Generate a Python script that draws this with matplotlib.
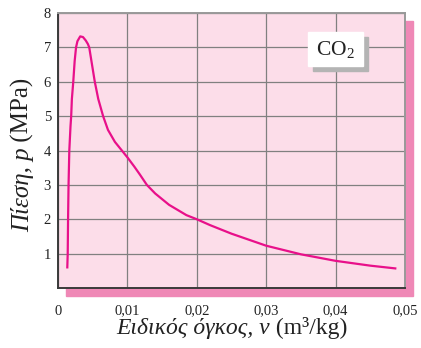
import matplotlib.pyplot as plt
from matplotlib.patches import Rectangle

plt.rcParams["font.family"] = ["Liberation Serif", "DejaVu Serif"]
plt.rcParams["mathtext.fontset"] = "custom"
plt.rcParams["mathtext.rm"] = "Liberation Serif"
plt.rcParams["mathtext.it"] = "Liberation Serif:italic"

# CO2 isotherm
volume = [0.00134, 0.0014, 0.00145, 0.00152, 0.00163, 0.0018, 0.0019, 0.0020,
          0.0022, 0.0024, 0.0026, 0.0028, 0.0032, 0.0036, 0.0040, 0.0043,
          0.0045, 0.0049, 0.0053, 0.0058, 0.0065, 0.0072, 0.0082, 0.0092,
          0.0100, 0.0110, 0.0118, 0.0128, 0.0140, 0.0160, 0.0185, 0.0200,
          0.0219, 0.0250, 0.0300, 0.0350, 0.0400, 0.0450, 0.0486]
pressure = [0.6, 1.0, 2.0, 3.0, 4.0, 4.7, 5.0, 5.5,
            6.0, 6.6, 7.0, 7.18, 7.32, 7.3, 7.2, 7.1,
            7.0, 6.5, 6.0, 5.5, 5.0, 4.6, 4.25, 4.0,
            3.8, 3.53, 3.3, 3.0, 2.75, 2.42, 2.12, 2.0,
            1.83, 1.58, 1.23, 0.98, 0.79, 0.65, 0.57]
xticks = [0, 0.01, 0.02, 0.03, 0.04, 0.05]
xtick_labels = ["0", "0,01", "0,02", "0,03", "0,04", "0,05"]
yticks = [1, 2, 3, 4, 5, 6, 7, 8]

W, H = 421, 348
fig = plt.figure(figsize=(W / 100, H / 100), dpi=100)
ax_l, ax_t, ax_r, ax_b = 58, 13, 405, 288
ax = fig.add_axes([ax_l / W, (H - ax_b) / H, (ax_r - ax_l) / W, (ax_b - ax_t) / H])
ax.set_facecolor("#fcdde9")

# pink drop shadow behind the plot area
fig.patches.append(Rectangle(((ax_l + 8) / W, (H - ax_b - 8) / H),
                             (ax_r - ax_l) / W, (ax_b - ax_t) / H,
                             transform=fig.transFigure, color="#ef88b6",
                             zorder=-1))

ax.plot(volume, pressure, color="#e8108a", lw=1.6, zorder=3,
        solid_joinstyle="round")

ax.set_xlim(0, 0.05)
ax.set_ylim(0, 8)
ax.set_xticks(xticks)
ax.set_xticklabels(xtick_labels)
ax.set_yticks(yticks)
ax.tick_params(length=0, labelsize=10.5, colors="#222222")
ax.tick_params(axis="x", pad=12)
ax.tick_params(axis="y", pad=5)
ax.grid(True, color="#808080", lw=0.9)
ax.set_axisbelow(True)
for side in ["left", "bottom"]:
    ax.spines[side].set_color("#3a3a3a")
    ax.spines[side].set_linewidth(1.4)
for side in ["top", "right"]:
    ax.spines[side].set_color("#999999")
    ax.spines[side].set_linewidth(1.4)

# CO2 box with grey shadow
bx0, by0, bx1, by1 = 308, 32, 363, 66
fig.patches.append(Rectangle(((bx0 + 5) / W, (H - by1 - 5) / H),
                             (bx1 - bx0) / W, (by1 - by0) / H,
                             transform=fig.transFigure, color="#b4b4b4",
                             zorder=2))
fig.patches.append(Rectangle((bx0 / W, (H - by1) / H),
                             (bx1 - bx0) / W, (by1 - by0) / H,
                             transform=fig.transFigure, color="white",
                             zorder=2))
fig.text((bx0 + bx1) / 2 / W, (H - (by0 + by1) / 2) / H, r"CO$_2$",
         ha="center", va="center", fontsize=15.5, color="#222222", zorder=3)


def two_part_label(x, y, first, second, rotation, size):
    kw = dict(fontsize=size, color="#222222", rotation=rotation,
              rotation_mode="anchor", ha="left", va="baseline")
    t1 = fig.text(0, 0, first, style="italic", **kw)
    t2 = fig.text(0, 0, second, **kw)
    r = fig.canvas.get_renderer()
    p1 = fig.text(0, 0, first, style="italic", fontsize=size)
    p2 = fig.text(0, 0, second, fontsize=size)
    w1 = p1.get_window_extent(r).width
    w2 = p2.get_window_extent(r).width
    p1.remove()
    p2.remove()
    start = -(w1 + w2) / 2
    if rotation == 0:
        t1.set_position(((x + start) / W, y / H))
        t2.set_position(((x + start + w1) / W, y / H))
    else:
        t1.set_position((x / W, (y + start) / H))
        t2.set_position((x / W, (y + start + w1) / H))


two_part_label(232, H - 334, "Ειδικός όγκος, v", " (m³/kg)", 0, 17)
two_part_label(29, H - 155, "Πίεση, p", " (MPa)", 90, 18)

fig.savefig("out.png", dpi=100)
